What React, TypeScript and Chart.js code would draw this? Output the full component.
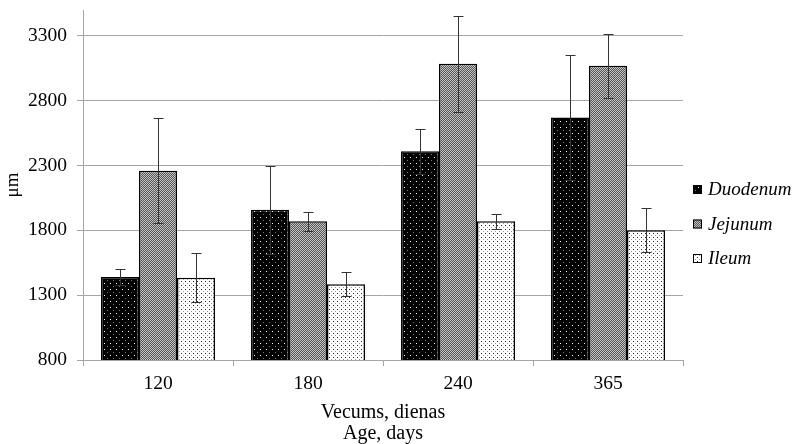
import React, { useEffect, useRef } from "react";
import { Chart, registerables } from "chart.js";

Chart.register(...registerables);

const categories = ["120", "180", "240", "365"];
const seriesNames = ["Duodenum", "Jejunum", "Ileum"];
const duodenum = [1440, 1960, 2410, 2670];
const duodenumErr = [65, 340, 175, 480];
const jejunum = [2260, 1870, 3085, 3070];
const jejunumErr = [405, 75, 370, 245];
const ileum = [1435, 1385, 1870, 1800];
const ileumErr = [190, 92, 57, 170];
const yTickValues = [800, 1300, 1800, 2300, 2800, 3300];
const xTitleLines = ["Vecums, dienas", "Age, days"];
const yTitle = "μm";

const FONT = "'Liberation Serif', 'Times New Roman', serif";

function makePattern(kind: number): CanvasPattern | string {
  const c = document.createElement("canvas");
  const ctx = c.getContext("2d")!;
  if (kind === 0) {
    c.width = 6; c.height = 6;
    ctx.fillStyle = "#000"; ctx.fillRect(0, 0, 6, 6);
    ctx.fillStyle = "#fff"; ctx.fillRect(2, 1, 1, 1);
    ctx.fillStyle = "#777"; ctx.fillRect(5, 4, 1, 1);
  } else if (kind === 1) {
    c.width = 2; c.height = 2;
    ctx.fillStyle = "#555"; ctx.fillRect(0, 0, 2, 2);
    ctx.fillStyle = "#c4c4c4"; ctx.fillRect(0, 0, 1, 1); ctx.fillRect(1, 1, 1, 1);
  } else {
    c.width = 4; c.height = 4;
    ctx.fillStyle = "#fff"; ctx.fillRect(0, 0, 4, 4);
    ctx.fillStyle = "#222"; ctx.fillRect(1, 1, 1, 1);
    ctx.fillStyle = "#999"; ctx.fillRect(3, 3, 1, 1);
  }
  return ctx.createPattern(c, "repeat") || "#888";
}

export default function App() {
  const ref = useRef<HTMLCanvasElement | null>(null);
  useEffect(() => {
    if (!ref.current) return;
    const pats = [makePattern(0), makePattern(1), makePattern(2)];
    const values = [duodenum, jejunum, ileum];
    const errs = [duodenumErr, jejunumErr, ileumErr];

    const errorBars = {
      id: "errorBars",
      afterDatasetsDraw(chart: any) {
        const ctx = chart.ctx;
        const ys = chart.scales.y;
        ctx.save();
        ctx.strokeStyle = "#333";
        ctx.lineWidth = 1;
        chart.data.datasets.forEach((ds: any, i: number) => {
          const meta = chart.getDatasetMeta(i);
          meta.data.forEach((bar: any, j: number) => {
            const v = values[i][j];
            const e = errs[i][j];
            const x = Math.round(bar.x) + 0.5;
            const yt = Math.round(ys.getPixelForValue(v + e)) + 0.5;
            const yb = Math.round(ys.getPixelForValue(v - e)) + 0.5;
            ctx.beginPath();
            ctx.moveTo(x, yt); ctx.lineTo(x, yb);
            ctx.moveTo(x - 5, yt); ctx.lineTo(x + 5, yt);
            ctx.moveTo(x - 5, yb); ctx.lineTo(x + 5, yb);
            ctx.stroke();
          });
        });
        ctx.restore();
      },
    };

    const customLegend = {
      id: "customLegend",
      afterDraw(chart: any) {
        const ctx = chart.ctx;
        ctx.save();
        const ys0 = 190;
        const gap = 34.5;
        chart.data.datasets.forEach((ds: any, i: number) => {
          const y = ys0 + i * gap;
          ctx.fillStyle = pats[i];
          ctx.fillRect(693, y - 5, 9, 9);
          ctx.strokeStyle = "#000";
          ctx.lineWidth = 1;
          ctx.strokeRect(693.5, y - 4.5, 8, 8);
          ctx.fillStyle = "#000";
          ctx.font = "italic 19px " + FONT;
          ctx.textBaseline = "middle";
          ctx.textAlign = "left";
          ctx.fillText(ds.label, 708, y);
        });
        ctx.restore();
      },
    };

    const chart = new Chart(ref.current, {
      type: "bar",
      data: {
        labels: categories,
        datasets: seriesNames.map((name, i) => ({
          label: name,
          data: values[i],
          backgroundColor: pats[i] as any,
          borderColor: "#000",
          borderWidth: 1.5,
          barPercentage: 1,
          categoryPercentage: 0.76,
        })),
      },
      options: {
        animation: false,
        responsive: true,
        maintainAspectRatio: false,
        layout: { padding: { top: 10, right: 115, left: 0, bottom: 0 } },
        plugins: {
          legend: { display: false },
          tooltip: { enabled: false },
        },
        scales: {
          x: {
            offset: true,
            grid: {
              display: true,
              drawOnChartArea: false,
              drawTicks: true,
              tickLength: 6,
              color: "#a6a6a6",
            },
            border: { color: "#a6a6a6", width: 1 },
            ticks: { color: "#000", font: { family: FONT, size: 19.5 }, padding: 6 },
            title: {
              display: true,
              text: xTitleLines,
              color: "#000",
              font: { family: FONT, size: 20, lineHeight: 1.05 },
              padding: { top: 4, bottom: 0 },
            },
            afterFit(s: any) { s.height = 84; s.paddingLeft = 0; s.paddingRight = 0; },
          },
          y: {
            min: 800,
            max: 3500,
            afterBuildTicks(s: any) {
              s.ticks = yTickValues.map((v) => ({ value: v }));
            },
            grid: { color: "#a6a6a6", tickLength: 6, lineWidth: 1 },
            border: { color: "#a6a6a6", width: 1 },
            ticks: {
              color: "#000",
              font: { family: FONT, size: 19.5 },
              padding: 10,
              callback: (v: any) => String(v),
            },
            title: {
              display: true,
              text: yTitle,
              color: "#000",
              font: { family: FONT, size: 19 },
              padding: { top: 2, bottom: 0 },
            },
            afterFit(s: any) { s.width = 83; s.paddingTop = 0; s.paddingBottom = 0; },
          },
        },
      },
      plugins: [errorBars, customLegend],
    });
    return () => chart.destroy();
  }, []);
  return (
    <div style={{ position: "fixed", left: 0, top: 0, width: 798, height: 444, background: "#fff" }}>
      <canvas ref={ref} />
    </div>
  );
}
